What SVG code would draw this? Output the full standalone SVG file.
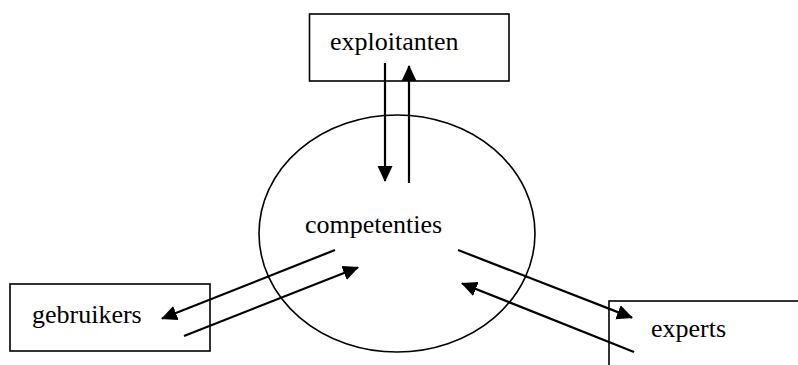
<svg xmlns="http://www.w3.org/2000/svg" width="798" height="365" viewBox="0 0 798 365">
<style>
.box{fill:#fff;stroke:#000;stroke-width:1.6}
.ell{fill:none;stroke:#000;stroke-width:1.6}
.lbl{font-family:"Liberation Serif","Times New Roman",serif;font-size:26px;fill:#000}
.con{stroke:#000;stroke-width:2.2;fill:none;marker-end:url(#ah)}
</style>
<defs>
<marker id="ah" markerUnits="userSpaceOnUse" markerWidth="18" markerHeight="16" refX="15" refY="7.5" orient="auto">
<path d="M0,0 L16,7.5 L0,15 z" fill="#000"/>
</marker>
</defs>
<rect width="798" height="365" fill="#fff"/>
<g id="competenties">
<ellipse class="ell" cx="397" cy="233.5" rx="138" ry="118.5"/>
<text class="lbl" x="305" y="233">competenties</text>
</g>
<g id="exploitanten">
<rect class="box" x="309.5" y="14" width="199.5" height="67"/>
<text class="lbl" x="330" y="50">exploitanten</text>
</g>
<g id="gebruikers">
<rect class="box" x="10" y="284" width="200" height="67"/>
<text class="lbl" x="32" y="323">gebruikers</text>
</g>
<g id="experts">
<rect class="box" x="609" y="301" width="200" height="80"/>
<text class="lbl" x="651" y="337">experts</text>
</g>
<g id="connectors">
<line class="con" x1="385" y1="63" x2="385" y2="181"/>
<line class="con" x1="409" y1="183" x2="409" y2="66"/>
<line class="con" x1="335" y1="250" x2="162" y2="318.6"/>
<line class="con" x1="184" y1="336" x2="358" y2="267.4"/>
<line class="con" x1="458" y1="250" x2="632" y2="317.6"/>
<line class="con" x1="634" y1="352" x2="462" y2="283.4"/>
</g>
</svg>
